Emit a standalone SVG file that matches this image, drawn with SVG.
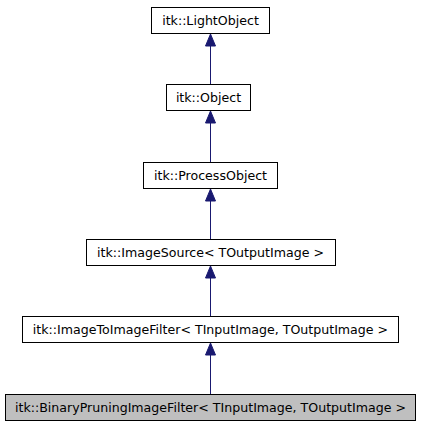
<svg xmlns="http://www.w3.org/2000/svg" width="421" height="427" viewBox="0 0 421 427">
<defs>
<style>
.box{fill:#ffffff;stroke:#000000;stroke-width:1}
.cur{fill:#bfbfbf;stroke:#000000;stroke-width:1}
.lbl{font-family:"DejaVu Sans",sans-serif;font-size:12.6px;fill:#000000;text-anchor:middle}
.edge{stroke:#191970;stroke-width:1;fill:none}
.head{fill:#191970;stroke:#191970;stroke-width:1}
</style>
</defs>
<rect width="421" height="427" fill="#ffffff"/>
<g id="connectors">
<line class="edge" x1="210.5" y1="84" x2="210.5" y2="46"/>
<polygon class="head" points="205.5,46 210.5,34 215.5,46"/>
<line class="edge" x1="210.5" y1="162" x2="210.5" y2="123"/>
<polygon class="head" points="205.5,123 210.5,111 215.5,123"/>
<line class="edge" x1="210.5" y1="239" x2="210.5" y2="201"/>
<polygon class="head" points="205.5,201 210.5,189 215.5,201"/>
<line class="edge" x1="210.5" y1="316" x2="210.5" y2="278"/>
<polygon class="head" points="205.5,278 210.5,266 215.5,278"/>
<line class="edge" x1="210.5" y1="394" x2="210.5" y2="355"/>
<polygon class="head" points="205.5,355 210.5,343 215.5,355"/>
</g>
<g id="node-lightobject">
<rect class="box" x="151.5" y="7.5" width="118" height="26"/>
<text class="lbl" x="210.5" y="25">itk::LightObject</text>
</g>
<g id="node-object">
<rect class="box" x="166.5" y="84.5" width="84" height="26"/>
<text class="lbl" x="208.5" y="102">itk::Object</text>
</g>
<g id="node-processobject">
<rect class="box" x="143.5" y="162.5" width="134" height="26"/>
<text class="lbl" x="210.5" y="180">itk::ProcessObject</text>
</g>
<g id="node-imagesource">
<rect class="box" x="86.5" y="239.5" width="249" height="26"/>
<text class="lbl" x="210.5" y="257">itk::ImageSource&lt; TOutputImage &gt;</text>
</g>
<g id="node-imagetoimagefilter">
<rect class="box" x="22.5" y="316.5" width="376" height="26"/>
<text class="lbl" x="210.5" y="334">itk::ImageToImageFilter&lt; TInputImage, TOutputImage &gt;</text>
</g>
<g id="node-binarypruningimagefilter">
<rect class="cur" x="5.5" y="394.5" width="410" height="26"/>
<text class="lbl" x="210.5" y="412">itk::BinaryPruningImageFilter&lt; TInputImage, TOutputImage &gt;</text>
</g>
</svg>
